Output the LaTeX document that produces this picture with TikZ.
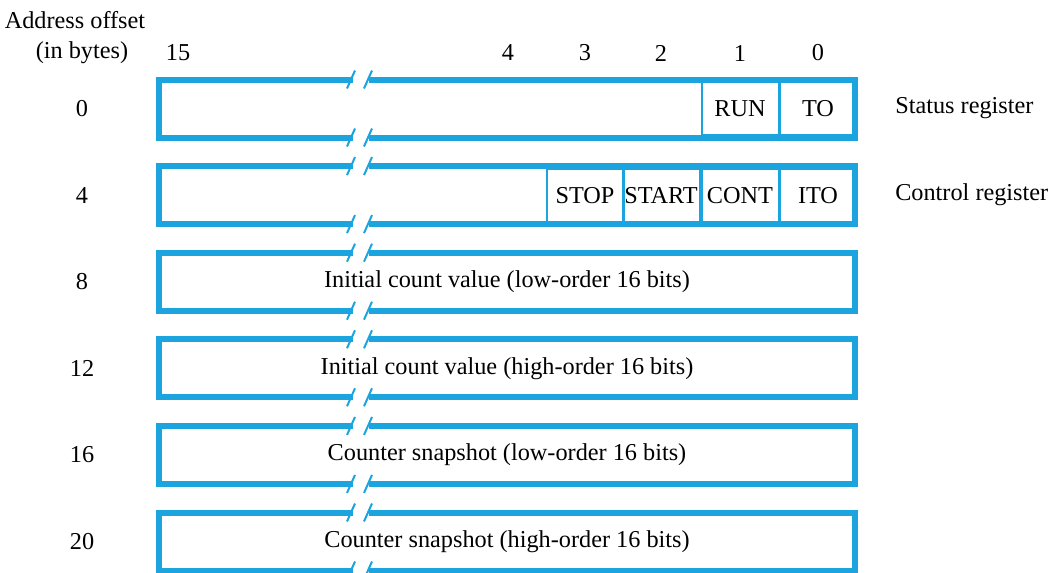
\documentclass[tikz,border=0pt]{standalone}
\usepackage{fontspec}
\setmainfont{Liberation Serif}
\usetikzlibrary{calc}
\definecolor{regblue}{RGB}{28,164,222}
\begin{document}
\begin{tikzpicture}[x=0.75pt,y=-0.75pt,
  reg/.style={draw=regblue,line width=4.5pt,minimum width=696*0.75pt,minimum height=58*0.75pt,inner sep=0pt,outer sep=0pt,anchor=center},
  field/.style={draw=regblue,line width=1.5pt,minimum width=77*0.75pt,minimum height=53*0.75pt,inner sep=0pt,outer sep=0pt},
  lbl/.style={font=\rmfamily\fontsize{18.2}{21}\selectfont,inner sep=0pt},
  brk/.style={draw=regblue,line width=1.5pt}]
\useasboundingbox (0,0) rectangle (1056,572);
\node[lbl] (hdr1) at (75,20) {Address offset};
\node[lbl] (hdr2) at (82,53) {(in bytes)};
\foreach \b/\x in {15/178,4/508,3/585,2/661,1/740,0/818}
  \node[lbl] (bit\b) at (\x,53) {\b};
\foreach \o/\y [count=\i] in {0/108.5,4/195.1,8/281.7,12/368.3,16/454.9,20/541.5}{
  \node[reg] (r\i) at (507,\y) {};
  \node[lbl] (off\i) at (82,\y) {\o};
}
% status register fields
\node[field,lbl] (to) at (818,108.5) {TO};
\node[field,lbl] (run) at (740,108.5) {RUN};
% control register fields
\node[field,lbl] (ito) at (818,195.1) {ITO};
\node[field,lbl] (cont) at (740,195.1) {CONT};
\node[field,lbl] (start) at (661,195.1) {START};
\node[field,lbl] (stop) at (585,195.1) {STOP};
% redraw outer boxes over field borders and add breaks
\foreach \i in {1,...,6}{
  \draw[regblue,line width=4.5pt] (r\i.north west) rectangle (r\i.south east);
  \fill[white] ($(r\i.north)+(-154,-5)$) rectangle ($(r\i.north)+(-138,5)$);
  \fill[white] ($(r\i.south)+(-154,-5)$) rectangle ($(r\i.south)+(-138,5)$);
  \draw[brk] ($(r\i.north)+(-160,9)$) -- ($(r\i.north)+(-152,-9)$);
  \draw[brk] ($(r\i.north)+(-143,9)$) -- ($(r\i.north)+(-135,-9)$);
  \draw[brk] ($(r\i.south)+(-160,9)$) -- ($(r\i.south)+(-152,-9)$);
  \draw[brk] ($(r\i.south)+(-143,9)$) -- ($(r\i.south)+(-135,-9)$);
}
\node[lbl,anchor=west] (stat) at (895,108.5) {Status register};
\node[lbl,anchor=west] (ctrl) at (895,195.1) {Control register};
\node[lbl] (t3) at (r3) {Initial count value (low-order 16 bits)};
\node[lbl] (t4) at (r4) {Initial count value (high-order 16 bits)};
\node[lbl] (t5) at (r5) {Counter snapshot (low-order 16 bits)};
\node[lbl] (t6) at (r6) {Counter snapshot (high-order 16 bits)};
\end{tikzpicture}
\end{document}
